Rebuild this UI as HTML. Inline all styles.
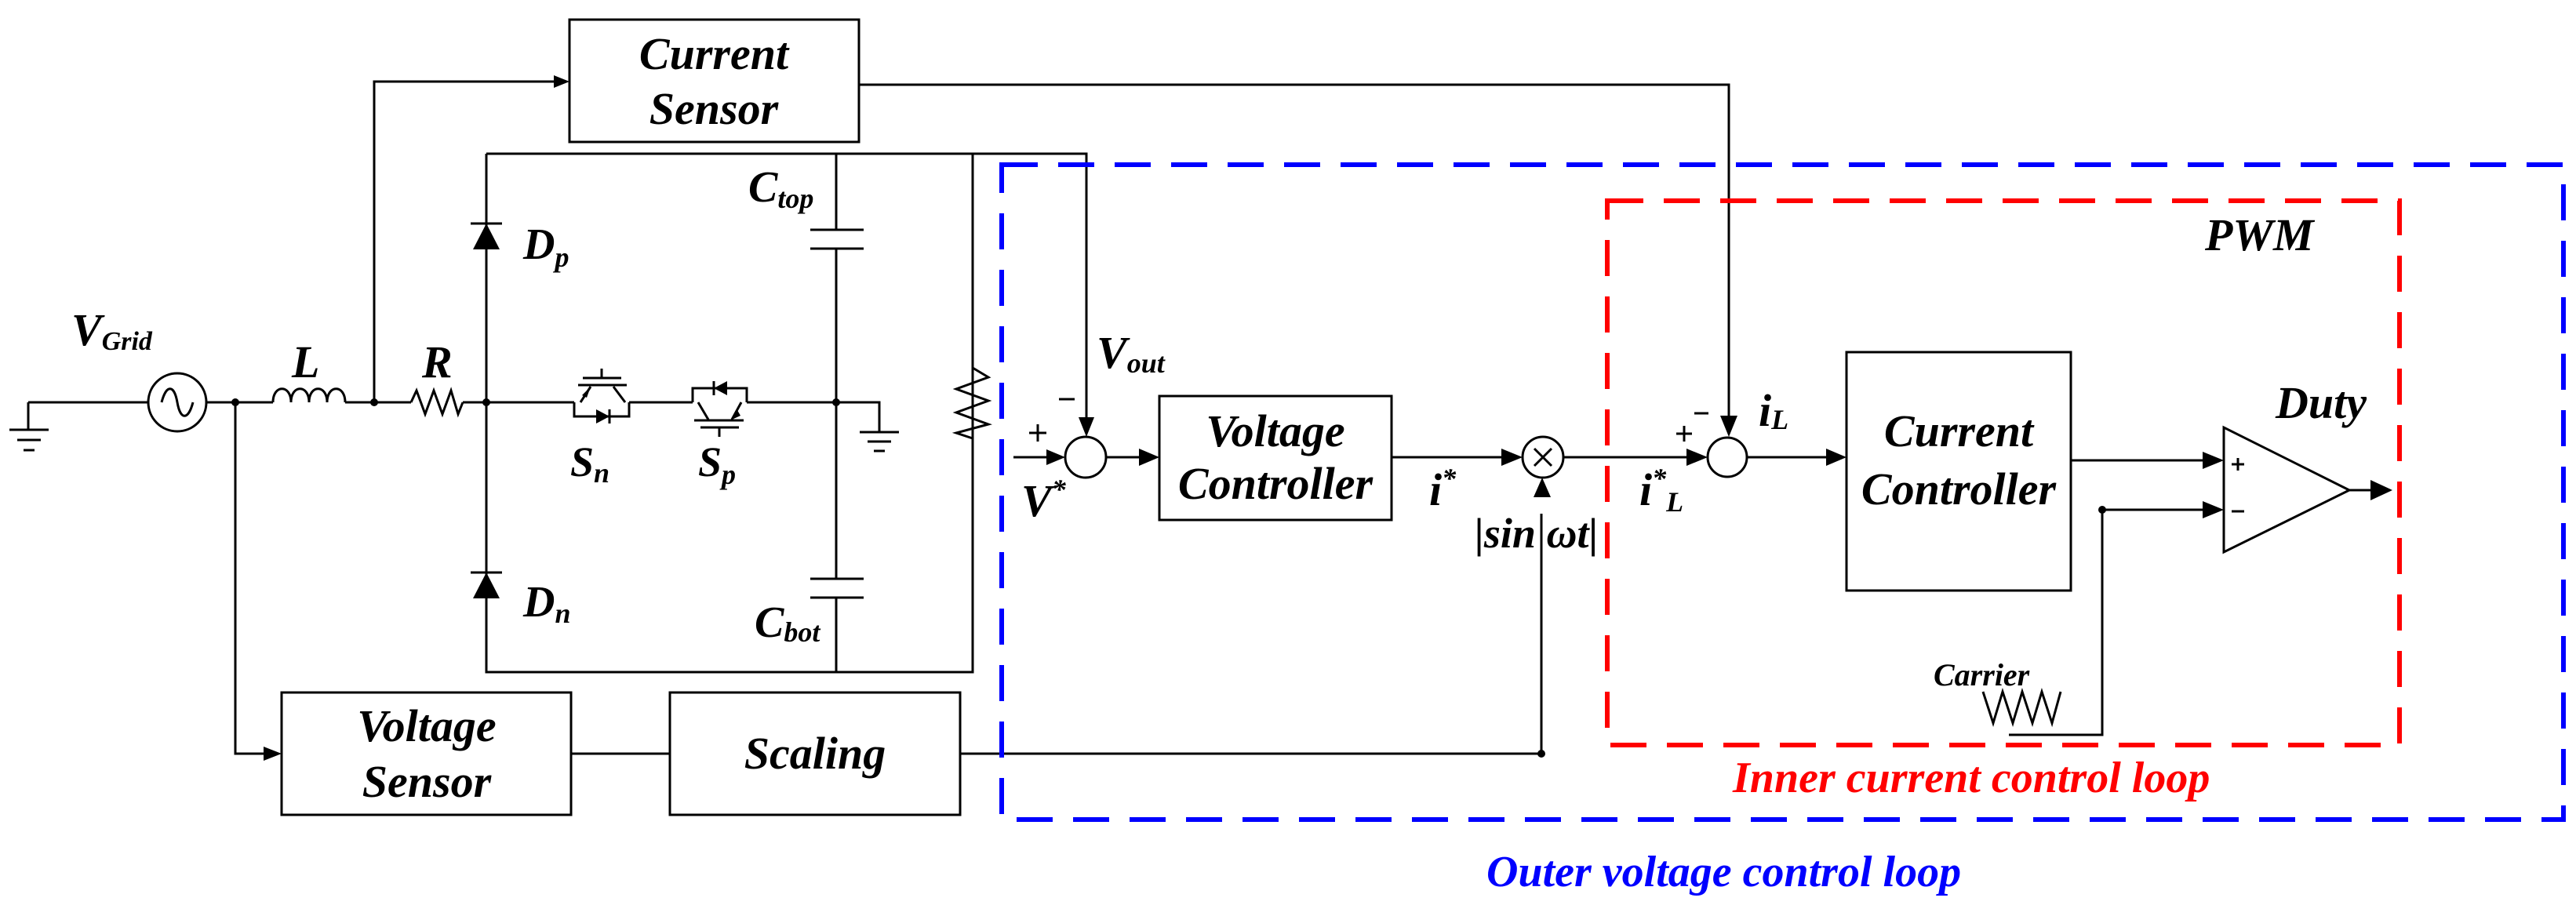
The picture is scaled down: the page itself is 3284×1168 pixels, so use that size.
<!DOCTYPE html>
<html><head><meta charset="utf-8"><style>
html,body{margin:0;padding:0;background:#fff;}
svg{display:block;}
text{font-family:"Liberation Serif","DejaVu Serif",serif;font-weight:bold;font-style:italic;}
</style></head><body>
<svg width="3284" height="1168" viewBox="0 0 3284 1168" xmlns="http://www.w3.org/2000/svg">
<g stroke="#000" stroke-width="3" fill="none">
<path d="M36 513 V548 M12 548 H62 M22 561 H52 M30 574 H44"/>
<path d="M36 513 H189 M263 513 H348 M440 513 H524 M590 513 H732 M802 513 H883 M952 513 H1121 V551"/>
<circle cx="226" cy="513" r="37"/>
<path d="M206 513 C212 490 222 490 226 513 C230 536 240 536 246 513"/>
<path d="M348 513 C348 490 371 490 371 513 C371 490 394 490 394 513 C394 490 417 490 417 513 C417 490 440 490 440 513"/>
<path d="M524 513 L531 498 L542 528 L553 498 L564 528 L575 498 L584 528 L590 513"/>
<path d="M1096 551 H1146 M1106 563 H1136 M1114 575 H1128"/>
<path d="M477 513 V104 H712"/>
<rect x="726" y="25" width="369" height="156"/>
<path d="M1095 108 H2204 V532"/>
<path d="M620 196 H1385 V532 M620 196 V857 H1240 V196 M1066 196 V293 M1066 317 V738 M1066 762 V857"/>
<path d="M1033 293 H1101 M1033 317 H1101 M1033 738 H1101 M1033 762 H1101"/>
<path d="M600 285 H640 M600 730 H640"/>
<path d="M1240 469 L1260 481 L1219 496 L1260 511 L1219 526 L1260 541 L1219 552 L1240 559"/>
<path d="M732 513 V531 H802 V513 M737 491 H799 M743 482 H792 M767 482 V470 M753 493 L740 513 M782 493 L797 513 M777 522 V540"/>
<path d="M883 513 V495 H952 V513 M885 536 H948 M893 545 H942 M917 545 V557 M890 513 L903 535 M945 513 L933 535 M910 486 V504"/>
<path d="M300 513 V961 H340"/>
<rect x="359" y="883" width="369" height="156"/>
<rect x="854" y="883" width="370" height="156"/>
<path d="M728 961 H854 M1224 961 H1965 V655"/>
<circle cx="1384" cy="583" r="26"/>
<path d="M1292 583 H1340 M1410 583 H1455"/>
<rect x="1478" y="505" width="296" height="158"/>
<path d="M1774 583 H1918"/>
<circle cx="1967" cy="583" r="26"/>
<path d="M1956 572 L1978 594 M1978 572 L1956 594"/>
<path d="M1993 583 H2154 M2227 583 H2332"/>
<circle cx="2202" cy="583" r="25"/>
<rect x="2354" y="449" width="286" height="304"/>
<path d="M2640 587 H2812 M2680 650 H2812 M2680 650 V937 H2561"/>
<path d="M2835 545 V704 L2995 625 Z"/>
<path d="M2995 625 H3026"/>
<path d="M2528 882 L2541 922 L2553 882 L2566 922 L2578 882 L2591 922 L2603 882 L2616 922 L2627 882"/>
<path d="M1312 552 H1334 M1323 541 V563 M1350 509 H1370 M2137 553 H2157 M2147 543 V563 M2160 527 H2178 M2845 592 H2861 M2853 584 V600 M2845 652 H2861"/>
</g>
<g fill="#000" stroke="none">
<circle cx="300" cy="513" r="5"/><circle cx="477" cy="513" r="5"/><circle cx="620" cy="513" r="5"/><circle cx="1066" cy="513" r="5"/>
<circle cx="1965" cy="961" r="5"/><circle cx="2680" cy="650" r="5"/>
<path d="M620 285 L603 318 H637 Z M620 730 L603 763 H637 Z"/>
<path d="M777 531 L760 522 V540 Z M910 495 L927 486 V504 Z"/>
<path d="M753 493 L742 504 L748 507 Z M933 535 L940 523 L944 530 Z"/>
<path d="M726 104 L706 96 V112 Z"/>
<path d="M359 961 L336 952 V970 Z"/>
<path d="M1385 557 L1375 532 H1395 Z"/>
<path d="M1358 583 L1334 573 V593 Z"/>
<path d="M1478 583 L1452 572 V594 Z"/>
<path d="M1941 583 L1914 572 V594 Z"/>
<path d="M1966 609 L1955 634 H1977 Z"/>
<path d="M2177 583 L2150 572 V594 Z"/>
<path d="M2204 557 L2193 530 H2215 Z"/>
<path d="M2354 583 L2328 572 V594 Z"/>
<path d="M2835 587 L2808 576 V598 Z"/>
<path d="M2835 650 L2808 639 V661 Z"/>
<path d="M3050 625 L3022 612 V638 Z"/>
</g>
<rect x="1277" y="210" width="1991" height="835" fill="none" stroke="#0000ff" stroke-width="6" stroke-dasharray="46 26"/>
<rect x="2049" y="256" width="1010" height="694" fill="none" stroke="#ff0000" stroke-width="6" stroke-dasharray="46 26"/>
<g font-family="Liberation Serif, serif" font-weight="bold" font-style="italic" fill="#000">
<text x="91" y="440" font-size="58">V<tspan font-size="34" dy="6">Grid</tspan></text>
<text x="372" y="481" font-size="58">L</text>
<text x="538" y="481" font-size="58">R</text>
<text x="667" y="330" font-size="56">D<tspan font-size="36" dy="10">p</tspan></text>
<text x="667" y="786" font-size="56">D<tspan font-size="36" dy="8">n</tspan></text>
<text x="727" y="607" font-size="54">S<tspan font-size="36" dy="8">n</tspan></text>
<text x="890" y="607" font-size="54">S<tspan font-size="36" dy="10">p</tspan></text>
<text x="954" y="257" font-size="56">C<tspan font-size="36" dy="8">top</tspan></text>
<text x="962" y="812" font-size="56">C<tspan font-size="36" dy="6">bot</tspan></text>
<text x="910" y="88" font-size="58" text-anchor="middle">Current</text>
<text x="910" y="158" font-size="58" text-anchor="middle">Sensor</text>
<text x="544" y="945" font-size="58" text-anchor="middle">Voltage</text>
<text x="544" y="1016" font-size="58" text-anchor="middle">Sensor</text>
<text x="1039" y="980" font-size="58" text-anchor="middle">Scaling</text>
<text x="1626" y="569" font-size="58" text-anchor="middle">Voltage</text>
<text x="1626" y="636" font-size="58" text-anchor="middle">Controller</text>
<text x="2497" y="569" font-size="58" text-anchor="middle">Current</text>
<text x="2497" y="643" font-size="58" text-anchor="middle">Controller</text>
<text x="1398" y="469" font-size="58">V<tspan font-size="36" dy="6">out</tspan></text>
<text x="1302" y="658" font-size="58">V<tspan font-size="36" dy="-22">*</tspan></text>
<text x="1822" y="644" font-size="58">i<tspan font-size="36" dy="-22">*</tspan></text>
<text x="2090" y="644" font-size="58">i<tspan font-size="36" dy="-22">*</tspan><tspan font-size="36" dy="30">L</tspan></text>
<text x="2242" y="543" font-size="58">i<tspan font-size="36" dy="4">L</tspan></text>
<text x="1880" y="698" font-size="54" font-family="Liberation Serif, DejaVu Serif, serif">|sin ωt|</text>
<text x="2901" y="533" font-size="58">Duty</text>
<text x="2811" y="319" font-size="58">PWM</text>
<text x="2465" y="874" font-size="40">Carrier</text>
<text x="2209" y="1010" font-size="56" fill="#ff0000">Inner current control loop</text>
<text x="1895" y="1130" font-size="56" fill="#0000ff">Outer voltage control loop</text>
</g>
</svg>
</body></html>
